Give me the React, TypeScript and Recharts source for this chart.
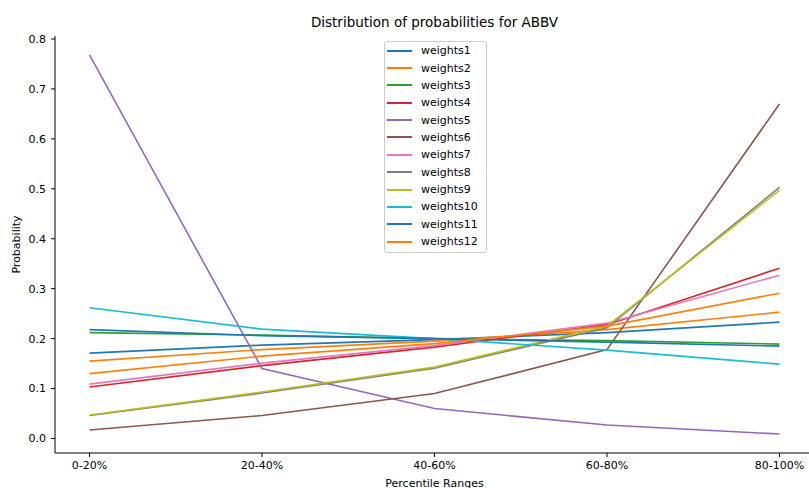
import React from "react";
import { LineChart, Line, XAxis, YAxis, Legend } from "recharts";

const categories = ["0-20%", "20-40%", "40-60%", "60-80%", "80-100%"];

const weights1 = [0.171, 0.187, 0.198, 0.212, 0.233];
const weights2 = [0.155, 0.178, 0.195, 0.218, 0.253];
const weights3 = [0.212, 0.207, 0.2, 0.196, 0.189];
const weights4 = [0.103, 0.146, 0.183, 0.228, 0.341];
const weights5 = [0.768, 0.14, 0.06, 0.027, 0.009];
const weights6 = [0.017, 0.046, 0.09, 0.178, 0.67];
const weights7 = [0.109, 0.151, 0.186, 0.231, 0.327];
const weights8 = [0.046, 0.091, 0.141, 0.222, 0.503];
const weights9 = [0.047, 0.093, 0.143, 0.225, 0.497];
const weights10 = [0.262, 0.219, 0.2, 0.177, 0.149];
const weights11 = [0.218, 0.206, 0.2, 0.193, 0.185];
const weights12 = [0.13, 0.165, 0.19, 0.225, 0.291];

const yTicks = [0, 0.1, 0.2, 0.3, 0.4, 0.5, 0.6, 0.7, 0.8];

const seriesNames = [
  "weights1", "weights2", "weights3", "weights4", "weights5", "weights6",
  "weights7", "weights8", "weights9", "weights10", "weights11", "weights12",
];
const seriesValues = [
  weights1, weights2, weights3, weights4, weights5, weights6,
  weights7, weights8, weights9, weights10, weights11, weights12,
];
const colors = [
  "#1f77b4", "#ff7f0e", "#2ca02c", "#d62728", "#9467bd", "#8c564b",
  "#e377c2", "#7f7f7f", "#bcbd22", "#17becf", "#1f77b4", "#ff7f0e",
];

const data = categories.map((c, i) => {
  const row: any = { x: i, label: c };
  seriesNames.forEach((n, j) => (row[n] = seriesValues[j][i]));
  return row;
});

const font = '"DejaVu Sans", sans-serif';

const LegendBox = () => (
  <div
    style={{
      boxSizing: "border-box",
      width: 103,
      height: 212,
      border: "1px solid #cccccc",
      borderRadius: 3,
      background: "rgba(255,255,255,0.8)",
      fontFamily: font,
      fontSize: 11,
      color: "#000",
    }}
  >
    {seriesNames.map((n, i) => (
      <div key={n} style={{ display: "flex", alignItems: "center", height: 17.36 }}>
        <span
          style={{
            display: "block",
            flex: "none",
            width: 25,
            height: 2,
            background: colors[i],
            marginLeft: 2,
            marginRight: 9,
          }}
        />
        <span style={{ lineHeight: "17px" }}>{n}</span>
      </div>
    ))}
  </div>
);

const App: React.FC = () => {
  return (
    <div
      style={{
        position: "absolute",
        left: 0,
        top: 0,
        width: 809,
        height: 488,
        overflow: "hidden",
        background: "#fff",
        fontFamily: font,
      }}
    >
      <div
        style={{
          position: "absolute",
          left: 55,
          width: 759,
          top: 16,
          textAlign: "center",
          fontSize: 13.5,
          lineHeight: "13.5px",
          color: "#000",
        }}
      >
        Distribution of probabilities for ABBV
      </div>
      <LineChart width={814} height={488} data={data} margin={{ top: 36, right: 0, bottom: 0, left: 0 }}>
        <XAxis
          dataKey="x"
          type="number"
          domain={[-0.2, 4.2]}
          allowDataOverflow
          ticks={[0, 1, 2, 3, 4]}
          tickFormatter={(v) => categories[v]}
          height={35}
          tickSize={4}
          tickMargin={4}
          tick={{ fill: "#000", fontSize: 11, fontFamily: font }}
          tickLine={{ stroke: "#000" }}
          axisLine={{ stroke: "#000" }}
          label={{ value: "Percentile Ranges", position: "insideBottom", offset: 1, fill: "#000", fontSize: 11, fontFamily: font }}
        />
        <XAxis
          xAxisId="top"
          orientation="top"
          dataKey="x"
          type="number"
          domain={[-0.2, 4.2]}
          allowDataOverflow
          height={0}
          tick={false}
          tickLine={false}
          axisLine={{ stroke: "#000" }}
        />
        <YAxis
          type="number"
          domain={[-0.029, 0.806]}
          allowDataOverflow
          ticks={yTicks}
          tickFormatter={(v) => v.toFixed(1)}
          width={55}
          tickSize={4}
          tickMargin={5}
          tick={{ fill: "#000", fontSize: 11, fontFamily: font }}
          tickLine={{ stroke: "#000" }}
          axisLine={{ stroke: "#000" }}
          label={{
            value: "Probability",
            angle: -90,
            position: "insideLeft",
            offset: 16,
            fill: "#000",
            fontSize: 11,
            fontFamily: font,
            style: { textAnchor: "middle" },
          }}
        />
        {seriesNames.map((n, i) => (
          <Line
            key={n}
            type="linear"
            dataKey={n}
            stroke={colors[i]}
            strokeWidth={1.6}
            dot={false}
            isAnimationActive={false}
          />
        ))}
        <Legend
          layout="vertical"
          align="center"
          verticalAlign="middle"
          wrapperStyle={{ left: 384, top: 41, width: 103, height: 212 }}
          content={() => <LegendBox />}
        />
      </LineChart>
    </div>
  );
};

export default App;
